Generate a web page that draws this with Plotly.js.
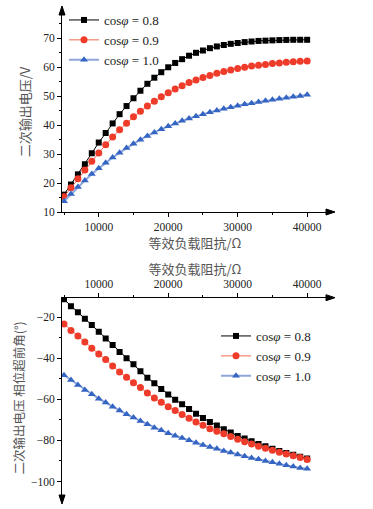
<!DOCTYPE html>
<html>
<head>
<meta charset="utf-8">
<script src="https://cdn.plot.ly/plotly-3.0.1.min.js"></script>
<style>html,body{margin:0;padding:0;background:#fff;}#chart{width:373px;height:509px;}</style>
</head>
<body>
<div id="chart"></div>
<script>
// Equivalent load impedance (Ω)
const impedance = [5000,6000,7000,8000,9000,10000,11000,12000,13000,14000,15000,16000,17000,18000,19000,20000,21000,22000,23000,24000,25000,26000,27000,28000,29000,30000,31000,32000,33000,34000,35000,36000,37000,38000,39000,40000];

// Secondary output voltage (V)
const voltPF08 = [16.0,19.5,23.0,26.5,30.3,34.0,37.3,40.6,43.8,46.6,49.3,51.9,54.3,56.4,58.3,60.0,61.5,62.8,64.0,65.0,65.8,66.6,67.2,67.7,68.1,68.4,68.7,68.9,69.1,69.2,69.3,69.4,69.45,69.5,69.5,69.5];
const voltPF09 = [15.3,18.4,21.5,24.5,27.5,30.4,33.2,35.9,38.4,40.7,42.9,44.8,46.6,48.3,49.8,51.2,52.5,53.6,54.7,55.6,56.5,57.2,57.9,58.5,59.1,59.6,60.0,60.4,60.7,61.0,61.3,61.5,61.7,61.9,62.1,62.2];
const voltPF10 = [13.7,16.2,18.6,20.9,23.1,25.1,27.0,28.8,30.5,32.1,33.6,35.0,36.3,37.5,38.6,39.6,40.6,41.5,42.3,43.1,43.8,44.5,45.1,45.7,46.2,46.7,47.2,47.6,48.0,48.4,48.8,49.1,49.5,49.8,50.1,50.5];

// Phase lead angle of secondary output voltage (°)
const phasePF08 = [-11.4,-14.7,-17.7,-20.8,-23.9,-27.1,-30.4,-33.6,-37.0,-40.0,-43.0,-46.4,-49.5,-52.2,-55.0,-57.7,-60.2,-62.4,-64.7,-67.0,-69.1,-71.0,-72.8,-74.6,-76.2,-77.8,-79.1,-80.4,-81.7,-82.8,-84.0,-85.1,-86.1,-87.0,-87.9,-88.8];
const phasePF09 = [-23.4,-26.5,-29.2,-32.1,-35.2,-38.0,-40.7,-43.8,-46.7,-49.3,-51.9,-54.3,-56.9,-59.4,-61.5,-63.6,-65.5,-67.4,-69.2,-71.0,-72.6,-74.3,-75.5,-76.8,-78.1,-79.4,-80.6,-81.7,-82.8,-83.8,-84.8,-85.7,-86.6,-87.5,-88.3,-89.3];
const phasePF10 = [-48.3,-50.6,-53.0,-55.5,-57.6,-59.7,-61.6,-63.6,-65.5,-67.3,-68.9,-70.5,-72.1,-73.8,-75.1,-76.5,-77.7,-78.8,-79.9,-81.1,-82.2,-83.2,-84.1,-85.1,-85.9,-86.9,-87.7,-88.5,-89.1,-90.0,-90.6,-91.4,-92.1,-92.7,-93.4,-93.8];

const seriesNames = ['cos<i>φ</i> = 0.8','cos<i>φ</i> = 0.9','cos<i>φ</i> = 1.0'];

const W = 373, H = 509;
const px = v => v / W;
const py = v => (H - v) / H;

const styles = [
  {line:{color:'#000000',width:1}, marker:{symbol:'square',size:6,color:'#000000'}},
  {line:{color:'#f26a50',width:1}, marker:{symbol:'circle',size:7,color:'#ef3b2a'}},
  {line:{color:'#8ea6dd',width:2}, marker:{symbol:'triangle-up',size:7,color:'#3565c2'}}
];

const traces = [];
[voltPF08, voltPF09, voltPF10].forEach((ys, i) => {
  traces.push(Object.assign({type:'scatter',mode:'lines+markers',x:impedance,y:ys,name:seriesNames[i],xaxis:'x',yaxis:'y',legend:'legend'}, styles[i]));
});
[phasePF08, phasePF09, phasePF10].forEach((ys, i) => {
  traces.push(Object.assign({type:'scatter',mode:'lines+markers',x:impedance,y:ys,name:seriesNames[i],xaxis:'x2',yaxis:'y2',legend:'legend2'}, styles[i]));
});

const serif = 'Liberation Serif';
const cjk = 'Noto Sans CJK SC';
const tickFont = {family: serif, size: 11.5, color: '#222'};
const titleFont = {family: cjk, size: 12.5, color: '#555'};

const axBase = {
  showline:true, linecolor:'#000', linewidth:1, showgrid:false, zeroline:false,
  ticks:'outside', ticklen:4, tickcolor:'#000', tickwidth:1, tickfont:tickFont,
};

function tri(a, b, c) {
  return {type:'path', xref:'paper', yref:'paper', layer:'above', fillcolor:'#000', line:{color:'#000', width:1},
    path:'M '+px(a[0]).toFixed(4)+' '+py(a[1]).toFixed(4)+' L '+px(b[0]).toFixed(4)+' '+py(b[1]).toFixed(4)+' L '+px(c[0]).toFixed(4)+' '+py(c[1]).toFixed(4)+' Z'};
}

const layout = {
  width: W, height: H,
  margin:{l:0,r:0,t:0,b:0},
  paper_bgcolor:'#fff', plot_bgcolor:'rgba(0,0,0,0)',
  font:{family: serif},
  xaxis: Object.assign({}, axBase, {
    domain:[px(62), px(328)], range:[4710, 43000], anchor:'y',
    tickvals:[10000,20000,30000,40000], ticktext:['10000','20000','30000','40000'],
    minor:{dtick:5000, tick0:0, ticks:'outside', ticklen:2, tickcolor:'#000'},
    title:{text:'等效负载阻抗/Ω', font:Object.assign({}, titleFont, {size:13}), standoff:1}
  }),
  yaxis: Object.assign({}, axBase, {
    domain:[py(212), py(12)], range:[10, 79.1], anchor:'x',
    tickvals:[10,20,30,40,50,60,70],
    minor:{dtick:5, tick0:0, ticks:'outside', ticklen:2, tickcolor:'#000'},
    title:{text:'二次输出电压/V', font:Object.assign({}, titleFont, {size:13}), standoff:9}
  }),
  xaxis2: Object.assign({}, axBase, {
    domain:[px(62), px(328)], range:[4710, 43000], anchor:'y2', side:'top',
    tickvals:[10000,20000,30000,40000], ticktext:['10000','20000','30000','40000'],
    minor:{dtick:5000, tick0:0, ticks:'outside', ticklen:2, tickcolor:'#000'},
    title:{text:'等效负载阻抗/Ω', font:Object.assign({}, titleFont, {size:13}), standoff:0}
  }),
  yaxis2: Object.assign({}, axBase, {
    domain:[py(498), py(297.7)], range:[-108, -10.6], anchor:'x2',
    tickvals:[-20,-40,-60,-80,-100],
    minor:{dtick:10, tick0:0, ticks:'outside', ticklen:2, tickcolor:'#000'},
    title:{text:'二次输出电压 相位超前角(°)', font:titleFont, standoff:3}
  }),
  legend:{x:px(64), y:py(5), xanchor:'left', yanchor:'top', bgcolor:'rgba(0,0,0,0)',
    font:{family:serif,size:13,color:'#222'}, tracegroupgap:0, itemwidth:30},
  legend2:{x:px(216), y:py(321), xanchor:'left', yanchor:'top', bgcolor:'rgba(0,0,0,0)',
    font:{family:serif,size:13,color:'#222'}, tracegroupgap:0, itemwidth:30},
  shapes:[
    tri([62,6],[59,15],[65,15]),
    tri([335,212],[326,209],[326,215]),
    tri([335,297.7],[326,294.7],[326,300.7]),
    tri([62,504],[59,495],[65,495])
  ]
};

Plotly.newPlot('chart', traces, layout, {displayModeBar:false, staticPlot:true});
</script>
</body>
</html>
